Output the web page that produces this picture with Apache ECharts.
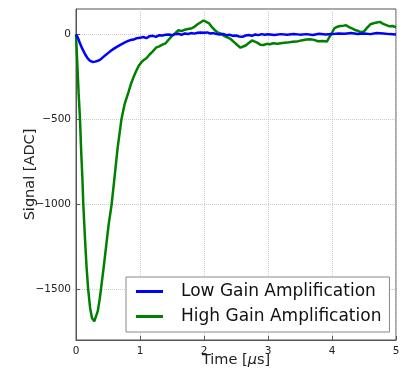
<!DOCTYPE html>
<html><head><meta charset="utf-8">
<script src="https://cdn.jsdelivr.net/npm/echarts@6/dist/echarts.min.js"></script>
<style>html,body{margin:0;padding:0;background:#fff}#c{width:405px;height:374px}</style>
</head><body><div id="c"></div>
<script>
const xTicks = [0, 1, 2, 3, 4, 5];
const yTicks = [0, -500, -1000, -1500];
const lowTime = [0,0.03,0.06,0.1,0.14,0.18,0.22,0.26,0.30,0.34,0.38,0.42,0.46,0.50,0.55,0.60,0.65,0.70,0.75,0.80,0.85,0.90,0.95,1.00,1.05,1.10,1.15,1.20,1.25,1.30,1.35,1.40,1.45,1.50,1.55,1.60,1.65,1.70,1.75,1.80,1.85,1.90,1.95,2.00,2.05,2.10,2.15,2.20,2.25,2.30,2.35,2.40,2.45,2.50,2.55,2.60,2.65,2.70,2.75,2.80,2.85,2.90,2.95,3.00,3.1,3.2,3.3,3.4,3.5,3.6,3.7,3.8,3.9,4.0,4.1,4.2,4.3,4.4,4.5,4.6,4.7,4.8,4.9,5.0];
const lowSignal = [0,-20,-50,-85,-115,-140,-155,-162,-160,-155,-148,-135,-122,-110,-95,-82,-70,-60,-50,-40,-33,-30,-22,-20,-15,-22,-10,-8,-14,-4,-6,-2,0,-5,2,4,-2,6,3,8,5,10,12,10,12,6,8,2,0,3,-4,-2,-8,-6,-12,-14,-6,-3,-8,0,-4,2,-2,1,-3,2,-2,3,-1,2,-3,4,0,2,6,4,8,3,6,2,8,5,2,0];
const highTime = [0,0.02,0.04,0.0625,0.08,0.1,0.114,0.14,0.165,0.19,0.22,0.25,0.286,0.31,0.34,0.37,0.39,0.43,0.47,0.51,0.557,0.6,0.65,0.71,0.76,0.82,0.86,0.90,0.94,0.98,1.02,1.06,1.10,1.15,1.20,1.25,1.30,1.35,1.40,1.45,1.50,1.55,1.60,1.65,1.70,1.75,1.80,1.85,1.90,1.95,1.99,2.03,2.08,2.12,2.17,2.22,2.27,2.32,2.37,2.42,2.47,2.52,2.57,2.60,2.65,2.70,2.75,2.78,2.83,2.88,2.93,2.98,3.03,3.08,3.15,3.22,3.30,3.38,3.45,3.52,3.60,3.66,3.72,3.78,3.85,3.92,3.96,4.00,4.04,4.08,4.13,4.18,4.22,4.26,4.30,4.35,4.40,4.45,4.50,4.55,4.60,4.65,4.70,4.75,4.80,4.85,4.90,4.95,5.00];
const highSignal = [0,-170,-340,-500,-680,-850,-1000,-1200,-1370,-1500,-1610,-1670,-1690,-1680,-1630,-1560,-1500,-1380,-1250,-1120,-1000,-850,-670,-500,-410,-340,-290,-250,-215,-185,-165,-150,-140,-118,-100,-78,-70,-60,-52,-30,-8,8,25,20,28,32,35,45,60,72,82,75,65,45,25,10,4,-10,-18,-28,-45,-62,-78,-82,-65,-50,-35,-30,-48,-60,-62,-55,-58,-52,-55,-50,-48,-43,-42,-35,-30,-28,-32,-40,-38,-42,-15,10,38,45,50,52,54,45,38,28,22,14,18,40,60,66,70,74,62,55,48,50,42];
const seriesNames = ['Low Gain Amplification', 'High Gain Amplification'];

const pair = (t, v) => t.map((x, i) => [x, v[i]]);
const chart = echarts.init(document.getElementById('c'));
const font = 'DejaVu Sans';
chart.setOption({
  animation: false,
  grid: {left: 76, right: 9, top: 9, bottom: 34, show: true, borderColor: '#555', borderWidth: 1,
         outerBoundsMode: 'none', containLabel: false},
  xAxis: {
    type: 'value', min: 0, max: 5, interval: 1,
    name: 'Time [{i|\u03bc}s]', nameLocation: 'middle', nameGap: 13, nameMoveOverlap: false,
    nameTextStyle: {fontFamily: font, fontSize: 14.5, color: '#222',
      rich: {i: {fontFamily: font, fontSize: 14.5, fontStyle: 'italic', color: '#222'}}},
    axisLine: {show: true, onZero: false, lineStyle: {color: '#555'}},
    axisTick: {show: true, inside: true, length: 4, lineStyle: {color: '#555'}},
    axisLabel: {fontFamily: font, fontSize: 10.5, color: '#222', margin: 6,
      formatter: v => xTicks.includes(v) ? String(v) : ''},
    splitLine: {show: true, lineStyle: {color: '#ccc', type: 'dotted'}}
  },
  yAxis: {
    type: 'value', min: -1800, max: 150, interval: 50,
    name: 'Signal [ADC]', nameLocation: 'middle', nameGap: 38, nameRotate: 90, nameMoveOverlap: false,
    nameTextStyle: {fontFamily: font, fontSize: 14.5, color: '#222'},
    axisLine: {show: true, onZero: false, lineStyle: {color: '#555'}},
    axisTick: {show: true, inside: true, length: 4, customValues: yTicks, lineStyle: {color: '#555'}},
    axisLabel: {fontFamily: font, fontSize: 10.5, color: '#222', margin: 5,
      customValues: yTicks,
      formatter: v => String(v).replace('-', '\u2212')},
    splitLine: {show: true, lineStyle: {color: '#ccc', type: 'dotted'}}
  },
  legend: {
    orient: 'vertical', left: 126, top: 277,
    data: seriesNames,
    itemWidth: 27, itemHeight: 3, itemGap: 8,
    icon: 'rect',
    backgroundColor: '#fff', borderColor: '#888', borderWidth: 1, borderRadius: 0,
    padding: [6, 8, 7, 10],
    textStyle: {fontFamily: font, fontSize: 17, color: '#111', padding: [0, 0, 0, 13]}
  },
  series: [
    {name: seriesNames[0], type: 'line', data: pair(lowTime, lowSignal), showSymbol: false,
     lineStyle: {color: '#0000ff', width: 2.5}, itemStyle: {color: '#0000ff'}, z: 3},
    {name: seriesNames[1], type: 'line', data: pair(highTime, highSignal), showSymbol: false,
     lineStyle: {color: '#008000', width: 2.5}, itemStyle: {color: '#008000'}, z: 2}
  ]
});
</script></body></html>
